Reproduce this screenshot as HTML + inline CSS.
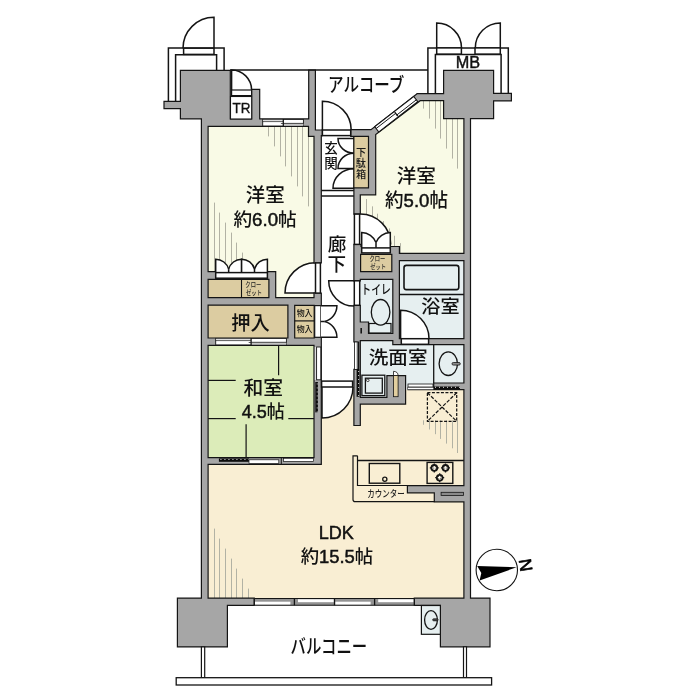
<!DOCTYPE html>
<html lang="ja">
<head>
<meta charset="utf-8">
<title>間取り図</title>
<style>
html,body{margin:0;padding:0;background:#fff;}
body{width:700px;height:700px;overflow:hidden;}
svg{display:block;will-change:transform;font-family:"Liberation Sans","Noto Sans CJK JP",sans-serif;}
.l{stroke:#111;stroke-width:2.6px;}
</style>
</head>
<body>
<svg width="700" height="700" viewBox="0 0 700 700">
<rect width="700" height="700" fill="#fff"/>
<path d="M205 124 L311 124 L311 134 L317 134 L317 300 L205 300 Z" fill="#f9fae6"/>
<path d="M375.7 134.6 L419.8 99 L466 99 L466 256 L390 256 L390 247 L357 247 L357 192 L372 192 Z" fill="#f9fae6"/>
<rect x="357" y="277" width="38" height="59" fill="#e6eff0"/>
<rect x="397" y="258" width="69" height="83" fill="#e6eff0"/>
<path d="M357 340.6 L395 340.6 L395 343 L466 343 L466 386 L405 386 L405 400 L357 400 Z" fill="#e6eff0"/>
<rect x="205" y="343" width="112" height="117" fill="#dcecb9"/>
<path d="M205 462 L318 462 L318 387 L356 387 L356 402 L403 402 L403 389.7 L466 389.7 L466 600 L205 600 Z" fill="#f9eed3"/>
<rect x="353" y="135" width="17" height="54" fill="#dccca1"/>
<rect x="359" y="253" width="34" height="20" fill="#dccca1"/>
<rect x="207" y="278" width="63" height="21" fill="#dccca1"/>
<rect x="207" y="304" width="82" height="35" fill="#dccca1"/>
<rect x="294" y="304" width="21" height="35" fill="#dccca1"/>
<line x1="268.5" y1="126.4" x2="268.5" y2="136.4" stroke="#b2b2a4" stroke-width="1"/>
<line x1="274.5" y1="126.4" x2="274.5" y2="146.4" stroke="#b2b2a4" stroke-width="1"/>
<line x1="280.5" y1="126.4" x2="280.5" y2="156.4" stroke="#b2b2a4" stroke-width="1"/>
<line x1="285.5" y1="126.4" x2="285.5" y2="166.4" stroke="#b2b2a4" stroke-width="1"/>
<line x1="291.5" y1="126.4" x2="291.5" y2="176.4" stroke="#b2b2a4" stroke-width="1"/>
<line x1="297.5" y1="126.4" x2="297.5" y2="186.4" stroke="#b2b2a4" stroke-width="1"/>
<line x1="302.5" y1="126.4" x2="302.5" y2="196.4" stroke="#b2b2a4" stroke-width="1"/>
<line x1="308.5" y1="136.4" x2="308.5" y2="206.4" stroke="#b2b2a4" stroke-width="1"/>
<line x1="214.5" y1="202.6" x2="214.5" y2="272" stroke="#b2b2a4" stroke-width="1"/>
<line x1="219.5" y1="212.6" x2="219.5" y2="272" stroke="#b2b2a4" stroke-width="1"/>
<line x1="225.5" y1="222.6" x2="225.5" y2="272" stroke="#b2b2a4" stroke-width="1"/>
<line x1="231.5" y1="232.6" x2="231.5" y2="272" stroke="#b2b2a4" stroke-width="1"/>
<line x1="236.5" y1="242.6" x2="236.5" y2="272" stroke="#b2b2a4" stroke-width="1"/>
<line x1="242.5" y1="252.6" x2="242.5" y2="272" stroke="#b2b2a4" stroke-width="1"/>
<line x1="423.5" y1="100.7" x2="423.5" y2="108.6" stroke="#b2b2a4" stroke-width="1"/>
<line x1="429.5" y1="100.7" x2="429.5" y2="118.6" stroke="#b2b2a4" stroke-width="1"/>
<line x1="435.5" y1="100.7" x2="435.5" y2="128.6" stroke="#b2b2a4" stroke-width="1"/>
<line x1="440.5" y1="100.7" x2="440.5" y2="138.6" stroke="#b2b2a4" stroke-width="1"/>
<line x1="446.5" y1="100.7" x2="446.5" y2="148.6" stroke="#b2b2a4" stroke-width="1"/>
<line x1="452.5" y1="100.7" x2="452.5" y2="158.6" stroke="#b2b2a4" stroke-width="1"/>
<line x1="457.5" y1="100.7" x2="457.5" y2="168.6" stroke="#b2b2a4" stroke-width="1"/>
<line x1="366.5" y1="199" x2="366.5" y2="254" stroke="#b2b2a4" stroke-width="1"/>
<line x1="372.5" y1="206.35" x2="372.5" y2="254" stroke="#b2b2a4" stroke-width="1"/>
<line x1="377.5" y1="213.7" x2="377.5" y2="254" stroke="#b2b2a4" stroke-width="1"/>
<line x1="383.5" y1="221.05" x2="383.5" y2="254" stroke="#b2b2a4" stroke-width="1"/>
<line x1="389.5" y1="228.4" x2="389.5" y2="254" stroke="#b2b2a4" stroke-width="1"/>
<line x1="394.5" y1="235.75" x2="394.5" y2="254" stroke="#b2b2a4" stroke-width="1"/>
<line x1="400.5" y1="243.1" x2="400.5" y2="254" stroke="#b2b2a4" stroke-width="1"/>
<line x1="423.5" y1="420.3" x2="423.5" y2="424.8" stroke="#b2b2a4" stroke-width="1"/>
<line x1="429.5" y1="420.3" x2="429.5" y2="429.5" stroke="#b2b2a4" stroke-width="1"/>
<line x1="435.5" y1="420.3" x2="435.5" y2="434.2" stroke="#b2b2a4" stroke-width="1"/>
<line x1="440.5" y1="420.3" x2="440.5" y2="438.9" stroke="#b2b2a4" stroke-width="1"/>
<line x1="446.5" y1="420.3" x2="446.5" y2="443.6" stroke="#b2b2a4" stroke-width="1"/>
<line x1="452.5" y1="420.3" x2="452.5" y2="448.3" stroke="#b2b2a4" stroke-width="1"/>
<line x1="457.5" y1="420.3" x2="457.5" y2="453" stroke="#b2b2a4" stroke-width="1"/>
<line x1="214.5" y1="528.6" x2="214.5" y2="598.1" stroke="#b2b2a4" stroke-width="1"/>
<line x1="219.5" y1="538.6" x2="219.5" y2="598.1" stroke="#b2b2a4" stroke-width="1"/>
<line x1="225.5" y1="548.6" x2="225.5" y2="598.1" stroke="#b2b2a4" stroke-width="1"/>
<line x1="231.5" y1="558.6" x2="231.5" y2="598.1" stroke="#b2b2a4" stroke-width="1"/>
<line x1="236.5" y1="568.6" x2="236.5" y2="598.1" stroke="#b2b2a4" stroke-width="1"/>
<line x1="242.5" y1="578.6" x2="242.5" y2="598.1" stroke="#b2b2a4" stroke-width="1"/>
<line x1="248.5" y1="588.6" x2="248.5" y2="598.1" stroke="#b2b2a4" stroke-width="1"/>
<path d="M214 48.3 L214 17.3 A31 31 0 0 0 183 48.3 Z" fill="#fff"/>
<path d="M214 48.3 L214 17.3 A31 31 0 0 0 183 48.3" fill="none" stroke="#141414" stroke-width="1.5"/>
<path d="M231.6 90 L231.6 70 A20 20 0 0 1 251.6 90 Z" fill="#fff"/>
<path d="M231.6 90 L231.6 70 A20 20 0 0 1 251.6 90" fill="none" stroke="#141414" stroke-width="1.5"/>
<path d="M322.4 130 L322.4 101.2 A28.8 28.8 0 0 1 351.2 130 Z" fill="#fff"/>
<path d="M322.4 130 L322.4 101.2 A28.8 28.8 0 0 1 351.2 130" fill="none" stroke="#141414" stroke-width="1.5"/>
<path d="M436.7 47.9 L436.7 23.1 A24.8 24.8 0 0 1 461.5 47.9 Z" fill="#fff"/>
<path d="M436.7 47.9 L436.7 23.1 A24.8 24.8 0 0 1 461.5 47.9" fill="none" stroke="#141414" stroke-width="1.5"/>
<path d="M500.3 47.9 L500.3 22.9 A25 25 0 0 0 475.3 47.9 Z" fill="#fff"/>
<path d="M500.3 47.9 L500.3 22.9 A25 25 0 0 0 475.3 47.9" fill="none" stroke="#141414" stroke-width="1.5"/>
<path d="M360.3 244.4 L360.3 214 A30.4 30.4 0 0 1 390.7 244.4 Z" fill="#fff"/>
<path d="M360.3 214 A30.4 30.4 0 0 1 390.7 244.4" fill="none" stroke="#141414" stroke-width="1.5"/>
<path d="M315.4 293.1 L285 293.1 A30.4 30.4 0 0 1 315.4 262.7 Z" fill="#fff"/>
<path d="M315.4 293.1 L285 293.1 A30.4 30.4 0 0 1 315.4 262.7" fill="none" stroke="#141414" stroke-width="1.5"/>
<path d="M354.1 280.7 L328.7 280.7 A25.4 25.4 0 0 0 354.1 306.1 Z" fill="#fff"/>
<path d="M354.1 280.7 L328.7 280.7 A25.4 25.4 0 0 0 354.1 306.1" fill="none" stroke="#141414" stroke-width="1.5"/>
<path d="M400.6 338.6 L400.6 310.2 A28.4 28.4 0 0 1 429 338.6 Z" fill="#fff"/>
<path d="M400.6 338.6 L400.6 310.2 A28.4 28.4 0 0 1 429 338.6" fill="none" stroke="#141414" stroke-width="1.5"/>
<path d="M322 387 L322 418 A31 31 0 0 0 353 387 Z" fill="#fff"/>
<path d="M322 387 L322 418 A31 31 0 0 0 353 387" fill="none" stroke="#141414" stroke-width="1.5"/>
<path d="M314 136.4 L314 263 L321.3 263 L321.3 135.7 L322.4 135.7 L322.4 130 L321.3 130 L315.4 130 L315.4 126.3 L315.4 118.9 L315.4 70 L308.7 70 L308.7 118.9 L259.7 118.9 L259.7 89.3 L251.6 89.3 L251.6 118.9 L230.3 118.9 L230.3 70.3 L180.4 70.3 L180.4 101.4 L164 101.4 L164 108.6 L180.4 108.6 L180.4 118.9 L201.4 118.9 L201.4 126.3 L201.4 271.7 L201.4 297.6 L201.4 305 L201.4 305.2 L201.4 337.9 L201.4 345.4 L201.4 457.6 L201.4 464.3 L201.4 598.1 L177.4 598.1 L177.4 646.9 L227.4 646.9 L227.4 605.4 L254.3 605.4 L254.3 598.1 L227.4 598.1 L227 598.1 L208.1 598.1 L208.1 464.3 L314 464.3 L321.3 464.3 L321.3 457.6 L321.3 412 L321.3 346 L321.3 345.4 L321.3 337.9 L321.3 337.2 L314.5 337.2 L314.5 305.6 L321.3 305.6 L321.3 305.2 L321.3 297.6 L321.3 293 L314 293 L314 297.6 L275.7 297.6 L275.7 271.7 L208.1 271.7 L208.1 126.3 L251.6 126.3 L259.7 126.3 L308.5 126.3 L308.5 136.4 L308.7 136.4 ZM295 345.4 L314 345.4 L314 346 L314 412 L314 457.6 L208.1 457.6 L208.1 345.4 L287.9 345.4 ZM287.9 337.9 L287.9 338 L208.1 338 L208.1 337.9 L208.1 305.2 L287.9 305.2 ZM208.1 279.3 L268.9 279.3 L268.9 297.6 L208.1 297.6 ZM314.2 338 L294.7 338 L294.7 305.4 L314.2 305.4 ZM353.9 214.1 L360.3 214.1 L360.3 194.8 L368.5 194.8 L375.7 194.8 L375.7 187.9 L375.7 136.4 L375.7 136 L375.7 134.5 L420.2 100.7 L443.6 100.7 L443.6 118.6 L463.9 118.6 L463.9 253.3 L399.4 253.3 L399.4 246.5 L361 246.5 L361 244.4 L353.9 244.4 L353.9 279 L353.9 279.4 L353.9 280.8 L360.3 280.8 L360.3 279.4 L361 279.4 L392.8 279.4 L392.8 333.5 L368.5 333.5 L368.5 322 L360.3 322 L360.3 305.3 L353.9 305.3 L353.9 322 L353.9 333.5 L353.9 340.6 L353.9 342 L358.6 342 L358.6 369.4 L353.9 369.4 L353.9 397.4 L353.9 404.1 L353.9 425.5 L360.3 425.5 L360.3 404.1 L386.9 404.1 L405.6 404.1 L405.6 397.4 L405.6 375.6 L386.9 375.6 L386.9 397.4 L360.3 397.4 L360.3 370 L360.3 369.4 L360.3 342 L360.3 341 L360.3 340.6 L368.5 340.6 L392.8 340.6 L392.8 344.7 L399.4 344.7 L463.9 344.7 L463.9 383 L433.7 383 L433.7 387.4 L408 387.4 L408 389.7 L433.7 389.7 L434 389.7 L463.9 389.7 L463.9 485.6 L434.3 485.6 L407.4 485.6 L407.4 492.8 L434.3 492.8 L434.3 501.8 L463.9 501.8 L463.9 598.1 L441 598.1 L440.4 598.1 L414.3 598.1 L414.3 605.4 L440.4 605.4 L440.4 646.8 L490 646.8 L490 598.1 L470.5 598.1 L470.5 118.6 L493.6 118.6 L493.6 100.9 L511.4 100.9 L511.4 93.3 L493.6 93.3 L493.6 70.3 L443.6 70.3 L443.6 93.6 L417.3 93.6 L417.1 93.6 L417.1 93.76 L371 129.6 L350.7 129.6 L350.7 136.4 L368.5 136.4 L368.5 187.9 L360.3 187.9 L353.9 187.9 L353.9 194.8 ZM399.4 338.6 L399.4 333.5 L399.4 279.4 L399.4 271.6 L399.4 260.6 L463.9 260.6 L463.9 338.6 ZM391.8 254.4 L391.8 271.6 L360.6 271.6 L360.6 254.4 Z" fill="#a6a6a6" stroke="#141414" stroke-width="1.2" fill-rule="evenodd" stroke-linejoin="miter"/>
<path d="M168.4 101.4 V47.9 H224.1 V70.3" fill="none" stroke="#141414" stroke-width="1.5"/>
<path d="M175.6 101.4 V54.7 H216.6 V70.3" fill="none" stroke="#141414" stroke-width="1.5"/>
<rect x="183.6" y="48.2" width="30.4" height="6.2" fill="#fff" stroke="#141414" stroke-width="1.5"/>
<path d="M427.9 93.6 V47.9 H508.3 V93.3" fill="none" stroke="#141414" stroke-width="1.5"/>
<path d="M435.4 93.6 V54.6 H501.1 V93.3" fill="none" stroke="#141414" stroke-width="1.5"/>
<rect x="436.7" y="47.9" width="24.7" height="6.2" fill="#fff" stroke="#141414" stroke-width="1.5"/>
<rect x="475" y="47.9" width="25.3" height="6.2" fill="#fff" stroke="#141414" stroke-width="1.5"/>
<line x1="230" y1="70" x2="428" y2="70" stroke="#141414" stroke-width="1.5"/>
<rect x="231.6" y="90" width="20" height="5.6" fill="#fff" stroke="#141414" stroke-width="1.2"/>
<rect x="230.5" y="96.5" width="21.2" height="22.5" fill="#fff" stroke="#141414" stroke-width="1.1"/>
<rect x="322.4" y="130" width="28.3" height="5.6" fill="#fff" stroke="#141414" stroke-width="1.5"/>
<line x1="321.3" y1="190.4" x2="353.9" y2="190.4" stroke="#141414" stroke-width="1.5"/>
<line x1="321.3" y1="196.1" x2="353.9" y2="196.1" stroke="#141414" stroke-width="1.5"/>
<line x1="353.8" y1="136.4" x2="353.8" y2="188" stroke="#141414" stroke-width="1.3"/>
<path d="M354 138.5 L338 138.5 A16 14.7 0 0 0 354 153.2" fill="none" stroke="#141414" stroke-width="1.5"/>
<path d="M354 168.4 L338 168.4 A16 15.2 0 0 1 354 153.2" fill="none" stroke="#141414" stroke-width="1.5"/>
<path d="M354 188.2 L333 188.2 A21 19.5 0 0 1 354 168.7" fill="none" stroke="#141414" stroke-width="1.5"/>
<rect x="354.4" y="214.1" width="5.2" height="30.3" fill="#fff" stroke="#141414" stroke-width="1.5"/>
<rect x="315.5" y="262.9" width="4.9" height="30.2" fill="#fff" stroke="#141414" stroke-width="1.5"/>
<rect x="354.3" y="280.8" width="5.4" height="24.5" fill="#fff" stroke="#141414" stroke-width="1.5"/>
<rect x="314.7" y="305.6" width="5.9" height="31.7" fill="#fff" stroke="#141414" stroke-width="1.2"/>
<rect x="401.3" y="338.7" width="27.3" height="5.6" fill="#fff" stroke="#141414" stroke-width="1.5"/>
<rect x="321.6" y="381.1" width="31" height="5.9" fill="#fff" stroke="#141414" stroke-width="1.5"/>
<path d="M320.7 305.8 L336.9 305.8 A16.2 16.2 0 0 1 324.69 321.5 L320.7 321.5 Z" fill="#fff"/>
<path d="M320.7 337.2 L336.9 337.2 A16.2 16.2 0 0 0 324.69 321.5 L320.7 321.5 Z" fill="#fff"/>
<path d="M320.7 305.8 L336.9 305.8 A16.2 16.2 0 0 1 324.69 321.5" fill="none" stroke="#141414" stroke-width="1.5"/>
<path d="M320.7 337.2 L336.9 337.2 A16.2 16.2 0 0 0 324.69 321.5" fill="none" stroke="#141414" stroke-width="1.5"/>
<line x1="320.7" y1="321.5" x2="324.69" y2="321.5" stroke="#141414" stroke-width="1.5"/>
<path d="M361.7 247.9 L361.7 232.6 A15.3 15.3 0 0 1 376 242.46 L376 247.9 Z" fill="#fff"/>
<path d="M390.3 247.9 L390.3 232.6 A15.3 15.3 0 0 0 376 242.46 L376 247.9 Z" fill="#fff"/>
<path d="M361.7 247.9 L361.7 232.6 A15.3 15.3 0 0 1 376 242.46" fill="none" stroke="#141414" stroke-width="1.5"/>
<path d="M390.3 247.9 L390.3 232.6 A15.3 15.3 0 0 0 376 242.46" fill="none" stroke="#141414" stroke-width="1.5"/>
<line x1="376" y1="242.46" x2="376" y2="247.9" stroke="#141414" stroke-width="1.5"/>
<rect x="361.7" y="247.9" width="28.6" height="5" fill="#fff" stroke="#141414" stroke-width="1.5"/>
<path d="M215.7 272.6 L215.7 259.2 A13.4 13.4 0 0 1 228.65 269.16 L228.65 272.6 Z" fill="#fff"/>
<path d="M241.6 272.6 L241.6 259.2 A13.4 13.4 0 0 0 228.65 269.16 L228.65 272.6 Z" fill="#fff"/>
<path d="M215.7 272.6 L215.7 259.2 A13.4 13.4 0 0 1 228.65 269.16" fill="none" stroke="#141414" stroke-width="1.5"/>
<path d="M241.6 272.6 L241.6 259.2 A13.4 13.4 0 0 0 228.65 269.16" fill="none" stroke="#141414" stroke-width="1.5"/>
<line x1="228.65" y1="269.16" x2="228.65" y2="272.6" stroke="#141414" stroke-width="1.5"/>
<path d="M241.6 272.6 L241.6 259.2 A13.4 13.4 0 0 1 254.5 268.97 L254.5 272.6 Z" fill="#fff"/>
<path d="M267.4 272.6 L267.4 259.2 A13.4 13.4 0 0 0 254.5 268.97 L254.5 272.6 Z" fill="#fff"/>
<path d="M241.6 272.6 L241.6 259.2 A13.4 13.4 0 0 1 254.5 268.97" fill="none" stroke="#141414" stroke-width="1.5"/>
<path d="M267.4 272.6 L267.4 259.2 A13.4 13.4 0 0 0 254.5 268.97" fill="none" stroke="#141414" stroke-width="1.5"/>
<line x1="254.5" y1="268.97" x2="254.5" y2="272.6" stroke="#141414" stroke-width="1.5"/>
<rect x="215.7" y="272.6" width="51.7" height="5.6" fill="#fff" stroke="#141414" stroke-width="1.5"/>
<line x1="241.5" y1="279.3" x2="241.5" y2="297.6" stroke="#141414" stroke-width="1.1"/>
<line x1="294.7" y1="320.9" x2="314.2" y2="320.9" stroke="#141414" stroke-width="1.2"/>
<rect x="262.7" y="119.4" width="40.7" height="6.6" fill="#fff" stroke="#141414" stroke-width="0.9"/>
<rect x="283.3" y="123.7" width="20.1" height="1.9" fill="#c4c4c4"/>
<rect x="263.1" y="119.8" width="20.2" height="1.2" fill="#ddd"/>
<line x1="262.7" y1="121.6" x2="283.3" y2="121.6" stroke="#141414" stroke-width="0.7"/>
<line x1="283.3" y1="123.4" x2="303.4" y2="123.4" stroke="#141414" stroke-width="0.8"/>
<line x1="280.9" y1="123.5" x2="283.3" y2="123.5" stroke="#141414" stroke-width="0.7"/>
<line x1="283.3" y1="119.1" x2="283.3" y2="126.3" stroke="#141414" stroke-width="1.3"/>
<rect x="215.7" y="338.4" width="70.7" height="6.5" fill="#fff" stroke="#141414" stroke-width="0.9"/>
<rect x="251.1" y="342.6" width="35.3" height="1.9" fill="#c4c4c4"/>
<rect x="216.1" y="338.8" width="35" height="1.2" fill="#ddd"/>
<line x1="215.7" y1="340.6" x2="251.1" y2="340.6" stroke="#141414" stroke-width="0.7"/>
<line x1="251.1" y1="342.3" x2="286.4" y2="342.3" stroke="#141414" stroke-width="0.8"/>
<line x1="248.7" y1="342.5" x2="251.1" y2="342.5" stroke="#141414" stroke-width="0.7"/>
<line x1="251.1" y1="338.1" x2="251.1" y2="345.2" stroke="#141414" stroke-width="1.3"/>
<rect x="254.3" y="598.5" width="160" height="6.8" fill="#939393"/>
<rect x="255" y="601.7" width="35.4" height="3.1" fill="#fff"/>
<rect x="298" y="599.3" width="35.9" height="2.9" fill="#fff"/>
<rect x="335.2" y="601.7" width="35.4" height="3.1" fill="#fff"/>
<rect x="378.2" y="599.3" width="35.5" height="2.9" fill="#fff"/>
<line x1="254.3" y1="598.5" x2="414.3" y2="598.5" stroke="#141414" stroke-width="1.1"/>
<line x1="254.3" y1="605.3" x2="414.3" y2="605.3" stroke="#141414" stroke-width="1.1"/>
<line x1="254.3" y1="598.5" x2="254.3" y2="605.3" stroke="#141414" stroke-width="1.3"/>
<line x1="294.4" y1="598.5" x2="294.4" y2="605.3" stroke="#141414" stroke-width="1.3"/>
<line x1="334.5" y1="598.5" x2="334.5" y2="605.3" stroke="#141414" stroke-width="1.3"/>
<line x1="374.6" y1="598.5" x2="374.6" y2="605.3" stroke="#141414" stroke-width="1.3"/>
<line x1="414.3" y1="598.5" x2="414.3" y2="605.3" stroke="#141414" stroke-width="1.3"/>
<g transform="translate(371,129.6) rotate(-37.85)">
<rect x="4.7" y="0" width="49.4" height="6.6" fill="#fff" stroke="#141414" stroke-width="1.1"/>
<line x1="4.7" y1="2.3" x2="29.4" y2="2.3" stroke="#141414" stroke-width="0.9"/>
<line x1="29.4" y1="4.3" x2="54.1" y2="4.3" stroke="#141414" stroke-width="0.9"/>
<line x1="29.4" y1="0.8" x2="29.4" y2="5.8" stroke="#141414" stroke-width="1.4"/>
</g>
<rect x="218.9" y="458.4" width="30" height="3.4" fill="#0c0c0c"/>
<line x1="220.5" y1="459.5" x2="248.9" y2="459.5" stroke="#fff" stroke-width="1" stroke-dasharray="0.9 3.1"/>
<rect x="249" y="459.8" width="29.8" height="3.6" fill="#fff" stroke="#141414" stroke-width="0.7"/>
<rect x="283.6" y="458.3" width="30" height="3.1" fill="#fff" stroke="#141414" stroke-width="0.7"/>
<line x1="281.3" y1="457.8" x2="281.3" y2="464.2" stroke="#141414" stroke-width="1"/>
<rect x="314.8" y="347" width="1.6" height="33" fill="#ddd"/>
<rect x="316.6" y="347" width="4.2" height="32.8" fill="#fff" stroke="#141414" stroke-width="0.9"/>
<rect x="315.3" y="382" width="2.6" height="30.4" fill="#0c0c0c"/>
<line x1="317.2" y1="383.5" x2="317.2" y2="412.4" stroke="#fff" stroke-width="0.9" stroke-dasharray="0.9 3.1"/>
<rect x="354.5" y="342" width="2.7" height="27.4" fill="#fff" stroke="#141414" stroke-width="0.8"/>
<rect x="356.6" y="369.4" width="2.8" height="27.4" fill="#0c0c0c"/>
<line x1="358.6" y1="371" x2="358.6" y2="396.8" stroke="#fff" stroke-width="0.9" stroke-dasharray="0.9 3.1"/>
<rect x="408" y="387.4" width="25.4" height="1.9" fill="#fff"/>
<rect x="408" y="384" width="25" height="3" fill="#fff" stroke="#141414" stroke-width="0.8"/>
<rect x="433.5" y="386.5" width="26.5" height="2.6" fill="#0c0c0c"/>
<line x1="435" y1="387.3" x2="460" y2="387.3" stroke="#fff" stroke-width="1" stroke-dasharray="0.9 3.1"/>
<rect x="369" y="323.5" width="22" height="9.5" fill="#e6eff0" stroke="#141414" stroke-width="1.2"/>
<ellipse cx="380.6" cy="312.3" rx="9.3" ry="12.8" fill="#e6eff0" stroke="#141414" stroke-width="1.3"/>
<line x1="361.2" y1="328" x2="361.2" y2="333.5" stroke="#141414" stroke-width="1.6"/>
<rect x="404" y="265.4" width="54.8" height="24.2" rx="2.3" ry="2.3" fill="#e6eff0" stroke="#141414" stroke-width="1.6"/>
<line x1="399.5" y1="294.4" x2="463.9" y2="294.4" stroke="#141414" stroke-width="1.5"/>
<line x1="433.7" y1="344.7" x2="433.7" y2="383" stroke="#141414" stroke-width="1.3"/>
<ellipse cx="448.3" cy="363.7" rx="9.2" ry="11.8" fill="#e6eff0" stroke="#141414" stroke-width="1.3"/>
<rect x="452" y="362.5" width="8.3" height="2.6" rx="1.3" fill="#8c8c8c" stroke="#141414" stroke-width="0.8"/>
<rect x="361.9" y="375.2" width="22.9" height="20.4" fill="#e6eff0" stroke="#141414" stroke-width="1.3"/>
<rect x="365.4" y="378.2" width="16.9" height="14.9" fill="#e6eff0" stroke="#141414" stroke-width="1.3"/>
<circle cx="367.8" cy="380.3" r="1.3" fill="#fff" stroke="#141414" stroke-width="0.8"/>
<path d="M393.5 375.6 V371.3 Q398.1 371.6 398.1 375.6 Z" fill="#fff" stroke="#141414" stroke-width="0.8"/>
<rect x="393.5" y="375.6" width="4.6" height="21.1" fill="#e2cf9f" stroke="#141414" stroke-width="0.8"/>
<rect x="427.4" y="392.7" width="29.3" height="28.6" fill="none" stroke="#141414" stroke-width="1.25" stroke-dasharray="3 1.5"/>
<line x1="427.4" y1="392.7" x2="456.7" y2="421.3" stroke="#141414" stroke-width="1.2" stroke-dasharray="3.6 1.5"/>
<line x1="456.7" y1="392.7" x2="427.4" y2="421.3" stroke="#141414" stroke-width="1.2" stroke-dasharray="3.6 1.5"/>
<path d="M357.5 455.8 H353 V499.4 Q353 501.6 355.2 501.6 H434.3" fill="none" stroke="#141414" stroke-width="1.2"/>
<path d="M357.5 455.8 V485.5 H407.4" fill="none" stroke="#141414" stroke-width="1.2"/>
<line x1="357.5" y1="460.5" x2="463.9" y2="460.5" stroke="#141414" stroke-width="1.3"/>
<rect x="369.3" y="463.5" width="30.5" height="19.7" fill="none" stroke="#141414" stroke-width="1.4"/>
<circle cx="384.8" cy="479.2" r="2.1" fill="#f9eed3" stroke="#141414" stroke-width="1.3"/>
<rect x="427.1" y="462.4" width="25.7" height="21" fill="none" stroke="#141414" stroke-width="1.4"/>
<path d="M429.8 467.9 h9 M434.3 463.4 v9" stroke="#141414" stroke-width="1.3" fill="none"/>
<circle cx="434.3" cy="467.9" r="2.9" fill="#fdf6e3" stroke="#141414" stroke-width="1.8"/>
<path d="M432.3 465.9 l4 4 M436.3 465.9 l-4 4" stroke="#141414" stroke-width="0.7" fill="none"/>
<circle cx="434.3" cy="467.9" r="0.9" fill="#fff"/>
<path d="M441 467.9 h9 M445.5 463.4 v9" stroke="#141414" stroke-width="1.3" fill="none"/>
<circle cx="445.5" cy="467.9" r="2.9" fill="#fdf6e3" stroke="#141414" stroke-width="1.8"/>
<path d="M443.5 465.9 l4 4 M447.5 465.9 l-4 4" stroke="#141414" stroke-width="0.7" fill="none"/>
<circle cx="445.5" cy="467.9" r="0.9" fill="#fff"/>
<path d="M435.2 477.7 h9 M439.7 473.2 v9" stroke="#141414" stroke-width="1.3" fill="none"/>
<circle cx="439.7" cy="477.7" r="2.9" fill="#fdf6e3" stroke="#141414" stroke-width="1.8"/>
<path d="M437.7 475.7 l4 4 M441.7 475.7 l-4 4" stroke="#141414" stroke-width="0.7" fill="none"/>
<circle cx="439.7" cy="477.7" r="0.9" fill="#fff"/>
<rect x="441.1" y="492.3" width="22.3" height="3.1" fill="#8a8a8a" stroke="#141414" stroke-width="0.8"/>
<line x1="278.6" y1="345.4" x2="278.6" y2="375.3" stroke="#141414" stroke-width="1.2"/>
<line x1="208.1" y1="380.4" x2="235.7" y2="380.4" stroke="#141414" stroke-width="1.2"/>
<line x1="208.1" y1="418.6" x2="235.7" y2="418.6" stroke="#141414" stroke-width="1.2"/>
<line x1="288.3" y1="418.6" x2="314" y2="418.6" stroke="#141414" stroke-width="1.2"/>
<line x1="246.1" y1="424.3" x2="246.1" y2="457.6" stroke="#141414" stroke-width="1.2"/>
<rect x="201.4" y="646.9" width="3.3" height="30.8" fill="#fff" stroke="#141414" stroke-width="1.2"/>
<rect x="463.5" y="646.8" width="3" height="30.9" fill="#fff" stroke="#141414" stroke-width="1.2"/>
<rect x="176.2" y="677.7" width="315.4" height="7.3" fill="#fff" stroke="#141414" stroke-width="1.3"/>
<rect x="421.4" y="605.5" width="19" height="28.8" fill="#e6eff0" stroke="#141414" stroke-width="1.2"/>
<ellipse cx="431" cy="620" rx="6.4" ry="9.3" fill="#e6eff0" stroke="#141414" stroke-width="1.3"/>
<rect x="432.6" y="618.7" width="5.6" height="2.2" rx="1.1" fill="#444" stroke="#141414" stroke-width="0.6"/>
<circle cx="496.8" cy="570" r="20.7" fill="#fff" stroke="#141414" stroke-width="1.1"/>
<path d="M516.6 567.3 L477.2 566 L481.3 573 L479.6 580.4 Z" fill="#000"/>
<text transform="scale(0.0528 0.0632)" font-size="100" font-weight="500" fill="#222"><tspan x="6997.55" y="4137.63">クロー</tspan><tspan x="7012.96" y="4263.35">ゼット</tspan></text>
<text transform="scale(0.0528 0.0659)" font-size="100" font-weight="500" fill="#222"><tspan x="4647.37" y="4351.55">クロー</tspan><tspan x="4660.88" y="4477.5">ゼット</tspan></text>
<text transform="translate(328.03 92.15) scale(0.1555 0.1901)" font-size="100" font-weight="500" fill="#111">アルコーブ</text>
<text transform="translate(455.76 68.44) scale(0.1626 0.1634)" font-size="100" font-weight="500" fill="#111"><tspan class="l">MB</tspan></text>
<text transform="translate(232.47 112.52) scale(0.1346 0.1384)" font-size="100" font-weight="500" fill="#111"><tspan class="l">TR</tspan></text>
<text transform="translate(245.72 201.88) scale(0.1948 0.1915)" font-size="100" font-weight="500" fill="#111">洋室</text>
<text transform="translate(233.43 225.73) scale(0.1868 0.1851)" font-size="100" font-weight="500" fill="#111">約<tspan class="l">6.0</tspan>帖</text>
<text transform="translate(396.71 183.01) scale(0.1963 0.1883)" font-size="100" font-weight="500" fill="#111">洋室</text>
<text transform="translate(385.03 207.09) scale(0.1856 0.1904)" font-size="100" font-weight="500" fill="#111">約<tspan class="l">5.0</tspan>帖</text>
<text transform="translate(231.33 329.63) scale(0.1927 0.1968)" font-size="100" font-weight="500" fill="#111">押入</text>
<text transform="translate(296.66 316.42) scale(0.0794 0.0755)" font-size="100" font-weight="500" fill="#111">物入</text>
<text transform="translate(296.66 332.43) scale(0.0794 0.0745)" font-size="100" font-weight="500" fill="#111">物入</text>
<text transform="translate(361.35 293.97) scale(0.0985 0.1313)" font-size="100" font-weight="500" fill="#111">トイレ</text>
<text transform="translate(421.33 312.7) scale(0.1921 0.1777)" font-size="100" font-weight="500" fill="#111">浴室</text>
<text transform="translate(368.72 364.4) scale(0.1962 0.1777)" font-size="100" font-weight="500" fill="#111">洗面室</text>
<text transform="translate(243.41 394.78) scale(0.1979 0.1915)" font-size="100" font-weight="500" fill="#111">和室</text>
<text transform="translate(241.82 418.39) scale(0.1803 0.1787)" font-size="100" font-weight="500" fill="#111"><tspan class="l">4.5</tspan>帖</text>
<text transform="translate(367.25 497.42) scale(0.0750 0.0966)" font-size="100" font-weight="500" fill="#222">カウンター</text>
<text transform="translate(318.74 538.72) scale(0.1803 0.1817)" font-size="100" font-weight="500" fill="#111"><tspan class="l">LDK</tspan></text>
<text transform="translate(300.63 563.33) scale(0.1841 0.1851)" font-size="100" font-weight="500" fill="#111">約<tspan class="l">15.5</tspan>帖</text>
<text transform="translate(290.48 653.6) scale(0.1541 0.2000)" font-size="100" font-weight="500" fill="#111">バルコニー</text>
<text x="324.16 324.23" y="153.45 167.73" font-size="13.55" font-weight="500" fill="#111">玄関</text>
<text x="355.91 355.86 356.01" y="155.81 166.92 178.02" font-size="10.18" font-weight="500" fill="#1a1a1a">下駄箱</text>
<text x="327.7 327.61" y="251.11 270.72" font-size="18.58" font-weight="500" fill="#111">廊下</text>
<text transform="translate(526 565) rotate(81.5)" font-size="17.5" text-anchor="middle" fill="#000" stroke="#000" stroke-width="0.6" y="6.3">N</text>
</svg>
</body>
</html>
